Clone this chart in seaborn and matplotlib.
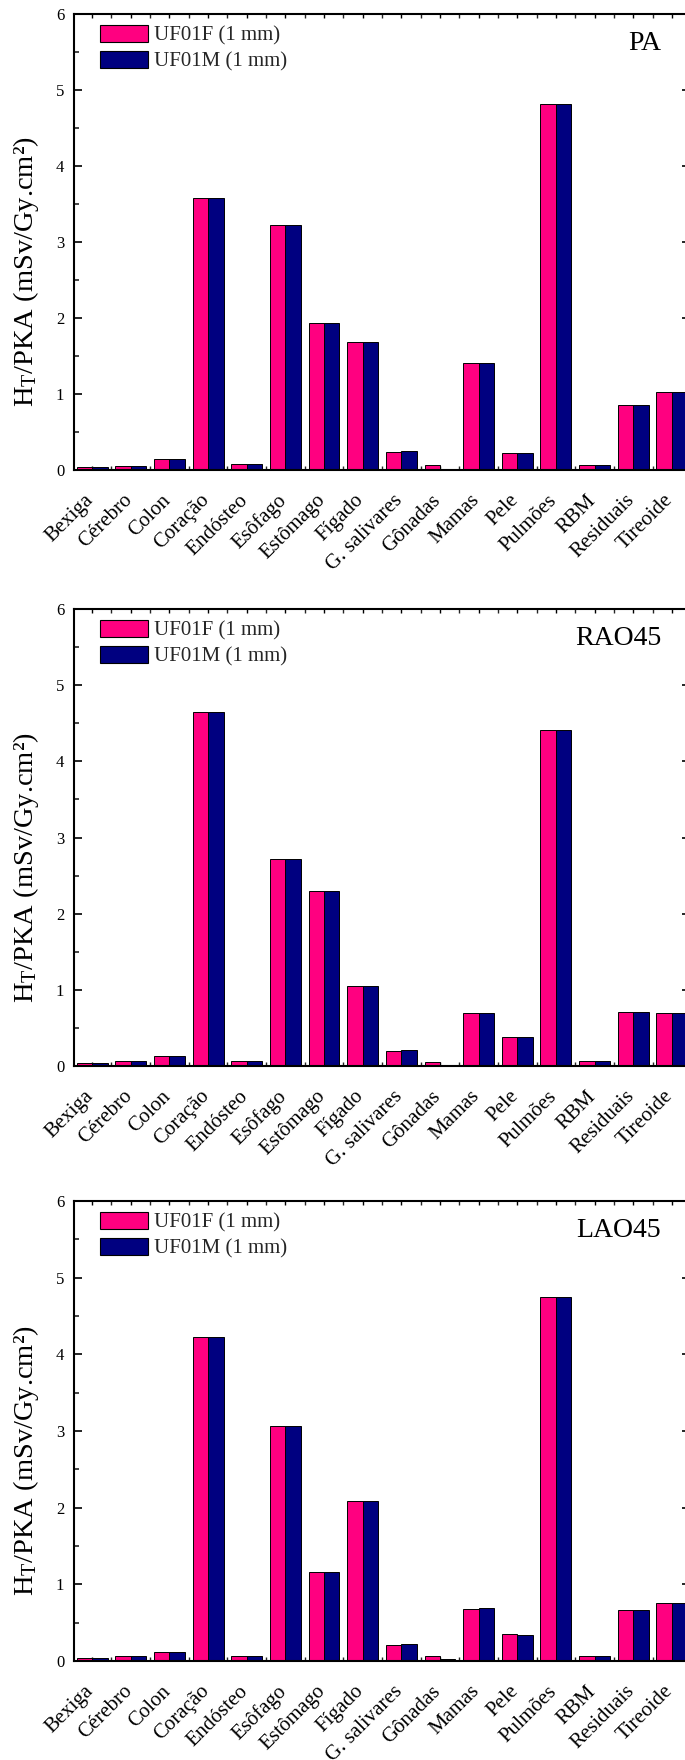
import numpy as np
import pandas as pd
import matplotlib
matplotlib.use('Agg')
import matplotlib.pyplot as plt
import matplotlib.patches as mpatches
import matplotlib.transforms as mtransforms
from matplotlib.ticker import MultipleLocator
import seaborn as sns

# ── Data ───────────────────────────────────────────────────────────────────
orgaos = ['Bexiga', 'Cérebro', 'Colon', 'Coração', 'Endósteo', 'Esôfago',
          'Estômago', 'Fígado', 'G. salivares', 'Gônadas', 'Mamas', 'Pele',
          'Pulmões', 'RBM', 'Residuais', 'Tireoide']
fantomas = ['UF01F (1 mm)', 'UF01M (1 mm)']
projecoes = ['PA', 'RAO45', 'LAO45']

pa_f = [0.04, 0.05, 0.14, 3.58, 0.08, 3.23, 1.93, 1.69, 0.24, 0.06, 1.41, 0.23, 4.82, 0.07, 0.85, 1.03]
pa_m = [0.04, 0.05, 0.14, 3.58, 0.08, 3.23, 1.93, 1.69, 0.25, 0.015, 1.41, 0.23, 4.82, 0.07, 0.85, 1.03]

rao_f = [0.04, 0.06, 0.13, 4.65, 0.07, 2.72, 2.30, 1.05, 0.20, 0.05, 0.70, 0.38, 4.41, 0.06, 0.71, 0.70]
rao_m = [0.04, 0.06, 0.13, 4.65, 0.07, 2.72, 2.30, 1.05, 0.21, 0.015, 0.70, 0.38, 4.41, 0.06, 0.71, 0.70]

lao_f = [0.04, 0.06, 0.12, 4.22, 0.07, 3.06, 1.16, 2.09, 0.21, 0.06, 0.68, 0.35, 4.75, 0.07, 0.67, 0.76]
lao_m = [0.04, 0.06, 0.12, 4.22, 0.07, 3.06, 1.16, 2.09, 0.22, 0.02, 0.69, 0.34, 4.75, 0.07, 0.67, 0.76]

series = {'PA': (pa_f, pa_m), 'RAO45': (rao_f, rao_m), 'LAO45': (lao_f, lao_m)}

# ── Style ──────────────────────────────────────────────────────────────────
sns.set_theme(style='ticks')
plt.rcParams['font.family'] = ['Liberation Serif', 'DejaVu Serif']
plt.rcParams['mathtext.fontset'] = 'custom'
plt.rcParams['mathtext.rm'] = 'Liberation Serif'
plt.rcParams['mathtext.it'] = 'Liberation Serif:italic'

PINK = '#FF0080'
NAVY = '#000080'

fig = plt.figure(figsize=(6.85, 17.6), dpi=100)
fig.patch.set_facecolor('white')

# axes boxes (left, bottom, width, height) in figure fraction
boxes = [
    (74 / 685, 1 - 470 / 1760, 616 / 685, 456 / 1760),
    (74 / 685, 1 - 1066 / 1760, 616 / 685, 457 / 1760),
    (74 / 685, 1 - 1661 / 1760, 616 / 685, 460 / 1760),
]

shift = mtransforms.ScaledTranslation(5 / 100, 0, fig.dpi_scale_trans)

for proj, box in zip(projecoes, boxes):
    ax = fig.add_axes(box)
    vf, vm = series[proj]
    df = pd.DataFrame({
        'orgao': orgaos * 2,
        'fantoma': [fantomas[0]] * len(orgaos) + [fantomas[1]] * len(orgaos),
        'valor': vf + vm,
    })
    sns.barplot(data=df, x='orgao', y='valor', hue='fantoma', hue_order=fantomas,
                palette=[PINK, NAVY], saturation=1, edgecolor='black', linewidth=0.7,
                width=0.8, ax=ax, legend=False)

    ax.set_xlim(-0.47, 15.47)
    ax.set_ylim(0, 6)
    ax.yaxis.set_major_locator(MultipleLocator(1))
    ax.yaxis.set_minor_locator(MultipleLocator(0.5))
    ax.xaxis.set_minor_locator(MultipleLocator(0.5))

    for side in ['left', 'top', 'bottom', 'right']:
        ax.spines[side].set_linewidth(1.5)
        ax.spines[side].set_color('black')

    ax.tick_params(axis='y', which='major', direction='in', length=6, width=1.2,
                   labelsize=12, pad=7, colors='black', right=True)
    ax.tick_params(axis='y', which='minor', direction='in', length=3.5, width=1.2, right=True)
    ax.tick_params(axis='x', which='both', direction='in', length=3, width=1,
                   top=True, bottom=True)
    ax.tick_params(axis='x', which='major', labelsize=15, pad=15, colors='black')
    for lbl in ax.get_xticklabels():
        lbl.set_rotation(45)
        lbl.set_ha('right')
        lbl.set_va('top')
        lbl.set_transform(lbl.get_transform() + shift)

    ax.set_xlabel('')
    ax.set_ylabel(r'H$_\mathregular{T}$/PKA (mSv/Gy.cm²)', fontsize=20.5, color='black')
    ax.yaxis.set_label_coords(-0.054, 0.435)

    ax.text(0.953, 0.935, proj, transform=ax.transAxes, ha='right', va='center',
            fontsize=20, color='black')

    handles = [mpatches.Patch(facecolor=PINK, edgecolor='black', linewidth=0.8, label=fantomas[0]),
               mpatches.Patch(facecolor=NAVY, edgecolor='black', linewidth=0.8, label=fantomas[1])]
    ax.legend(handles=handles, loc='upper left', bbox_to_anchor=(0.035, 0.985),
              frameon=False, fontsize=15, handlelength=2.3, handleheight=0.87,
              handletextpad=0.3, labelspacing=0.25, borderpad=0.2, borderaxespad=0)

fig.savefig('out.png', dpi=100, facecolor='white')
